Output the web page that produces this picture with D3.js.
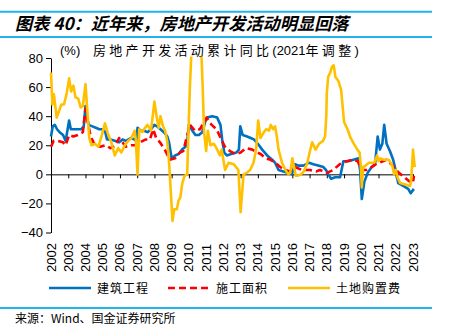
<!DOCTYPE html>
<html>
<head>
<meta charset="utf-8">
<script src="https://cdn.jsdelivr.net/npm/d3@7"></script>
<style>
  body { margin: 0; background: #fff; }
  text { font-family: "Liberation Sans", Arial, sans-serif; }
  .cjk { font-family: "Noto Sans CJK SC", sans-serif; }
</style>
</head>
<body>
<svg id="chart" width="450" height="332"></svg>
<script>
// Values: [year, cumulative YoY %]
const construction = [
  [2002.0, 26], [2002.1, 33], [2002.22, 34], [2002.35, 31], [2002.5, 29], [2002.7, 27], [2002.85, 23],
  [2003.05, 37], [2003.15, 31], [2003.35, 31], [2003.55, 31], [2003.75, 31], [2003.9, 33],
  [2004.0, 47], [2004.1, 38], [2004.2, 34], [2004.4, 33], [2004.6, 32], [2004.8, 31],
  [2005.0, 31], [2005.15, 29], [2005.25, 24], [2005.45, 24], [2005.75, 23], [2005.95, 22],
  [2006.15, 24], [2006.35, 23], [2006.65, 25], [2006.85, 24], [2006.95, 23],
  [2007.02, 32], [2007.2, 30], [2007.4, 30], [2007.6, 29], [2007.8, 31],
  [2008.0, 34], [2008.15, 33], [2008.35, 31], [2008.55, 29], [2008.75, 26], [2008.85, 22],
  [2009.0, 11], [2009.2, 13], [2009.4, 14], [2009.6, 17], [2009.8, 19], [2009.9, 22],
  [2010.0, 34], [2010.2, 30], [2010.38, 27], [2010.58, 27], [2010.77, 29], [2010.97, 37],
  [2011.06, 39], [2011.35, 40], [2011.64, 39], [2011.83, 34], [2011.93, 24],
  [2012.05, 15], [2012.2, 13], [2012.45, 14], [2012.75, 15], [2012.9, 17],
  [2012.98, 33], [2013.12, 27], [2013.38, 26], [2013.58, 25], [2013.77, 24],
  [2014.0, 21], [2014.25, 17], [2014.54, 13], [2014.83, 10],
  [2015.0, 8], [2015.2, 3], [2015.48, 2], [2015.77, 1], [2015.97, 0],
  [2016.16, 7], [2016.35, 6], [2016.64, 6], [2016.97, 8],
  [2017.22, 7], [2017.5, 6], [2017.8, 5], [2017.95, 3],
  [2018.09, 0], [2018.25, -3], [2018.48, -2], [2018.77, -2],
  [2018.96, 9], [2019.25, 9], [2019.54, 10], [2019.83, 11], [2019.93, 3],
  [2020.03, -17], [2020.18, -5], [2020.37, 1], [2020.6, 5], [2020.8, 7],
  [2020.95, 26], [2021.08, 17], [2021.22, 21], [2021.33, 34], [2021.47, 21], [2021.66, 16], [2021.85, 10],
  [2021.99, 3], [2022.14, -6], [2022.43, -8], [2022.72, -10], [2022.87, -13], [2023.05, -10]
];
const floorSpace = [
  [2002.0, 19], [2002.15, 23], [2002.4, 23], [2002.7, 22], [2002.85, 20],
  [2003.05, 27], [2003.3, 26], [2003.55, 27], [2003.85, 29],
  [2004.0, 45], [2004.15, 35], [2004.3, 26], [2004.55, 20], [2004.85, 19],
  [2005.15, 20], [2005.45, 18], [2005.75, 20], [2005.95, 25],
  [2006.15, 22], [2006.35, 19], [2006.65, 20], [2006.95, 20],
  [2007.16, 22], [2007.5, 24], [2007.74, 24], [2007.93, 31],
  [2008.1, 25], [2008.32, 22], [2008.6, 17], [2008.9, 10],
  [2009.19, 11], [2009.48, 15], [2009.67, 16],
  [2010.06, 34], [2010.35, 30], [2010.64, 31],
  [2011.03, 39], [2011.32, 34], [2011.61, 31], [2011.8, 26],
  [2012.09, 19], [2012.38, 16], [2012.7, 14],
  [2013.0, 15], [2013.3, 18], [2013.68, 17], [2013.97, 15],
  [2014.16, 14], [2014.45, 11], [2014.74, 10],
  [2015.0, 8], [2015.3, 5], [2015.6, 3], [2015.87, 2],
  [2016.16, 5], [2016.55, 3], [2017.03, 3], [2017.4, 2], [2017.6, 3],
  [2018.0, 1], [2018.37, 3], [2018.75, 7],
  [2019.15, 9], [2019.5, 10], [2019.8, 9],
  [2020.0, 3], [2020.3, 3], [2020.6, 5], [2020.85, 7],
  [2021.25, 9], [2021.45, 10], [2021.83, 6],
  [2022.1, 2], [2022.5, -2], [2022.8, -5], [2023.0, -6], [2023.05, -1]
];
const landCost = [
  [2002.0, 70], [2002.08, 48], [2002.17, 55], [2002.33, 39], [2002.45, 43], [2002.6, 48], [2002.75, 48], [2002.9, 55],
  [2003.05, 66], [2003.17, 57], [2003.3, 61], [2003.42, 53], [2003.58, 52], [2003.72, 46], [2003.85, 47],
  [2004.0, 62], [2004.1, 45], [2004.22, 25], [2004.35, 20], [2004.55, 21], [2004.75, 19], [2004.95, 27],
  [2005.13, 35], [2005.3, 28], [2005.5, 22], [2005.7, 13], [2005.9, 18],
  [2006.08, 15], [2006.28, 20], [2006.48, 23], [2006.67, 25], [2006.85, 30], [2006.92, 24],
  [2007.02, 0], [2007.12, 31], [2007.3, 29], [2007.45, 32], [2007.6, 34], [2007.8, 30],
  [2008.0, 50], [2008.15, 38], [2008.25, 32], [2008.35, 40], [2008.5, 33], [2008.62, 30], [2008.75, 22], [2008.85, 8],
  [2009.05, -32], [2009.15, -24], [2009.3, -24], [2009.4, -18], [2009.5, -16], [2009.62, -6], [2009.75, -1], [2009.9, 0],
  [2010.05, 58], [2010.15, 85], [2010.25, 95], [2010.5, 92], [2010.7, 90], [2010.8, 60], [2010.88, 29],
  [2011.0, 16], [2011.1, 30], [2011.25, 20], [2011.45, 21], [2011.6, 18], [2011.8, 13], [2011.9, 17],
  [2012.1, 3], [2012.3, 8], [2012.6, 7], [2012.87, 3],
  [2013.0, -26], [2013.17, 0], [2013.35, 1], [2013.55, 3], [2013.75, 8], [2013.9, 17],
  [2014.02, 37], [2014.15, 25], [2014.35, 29], [2014.48, 31], [2014.65, 30], [2014.75, 34], [2014.88, 31],
  [2015.0, 33], [2015.1, 26], [2015.2, 17], [2015.4, 8], [2015.6, 3], [2015.77, 0], [2015.88, 1],
  [2016.0, 11], [2016.2, -1], [2016.3, -1], [2016.5, 0], [2016.67, 2], [2016.87, 8],
  [2017.0, 15], [2017.15, 22], [2017.35, 17], [2017.55, 21], [2017.78, 23], [2017.9, 26], [2017.97, 40],
  [2018.0, 56], [2018.08, 67], [2018.2, 70], [2018.3, 74], [2018.4, 75], [2018.5, 67], [2018.68, 64], [2018.83, 58],
  [2019.0, 36], [2019.2, 31], [2019.38, 25], [2019.57, 21], [2019.77, 17], [2019.9, 15], [2019.97, 6],
  [2020.03, -9], [2020.1, 5], [2020.25, 6], [2020.45, 8], [2020.75, 8], [2020.92, 13],
  [2021.0, 9], [2021.1, 11], [2021.3, 10], [2021.6, 10], [2021.8, 6], [2021.9, 0],
  [2022.0, 3], [2022.1, -2], [2022.25, -6], [2022.55, -7], [2022.83, -8], [2022.9, -3],
  [2023.0, 17], [2023.1, 5]
];
const yTicks = [-40, -20, 0, 20, 40, 60, 80];
const years = d3.range(2002, 2024);
const legendNames = ["建筑工程", "施工面积", "土地购置费"];

const svg = d3.select("#chart");

const x = d3.scaleLinear().domain([2002, 2023]).range([51, 413]);
const y = d3.scaleLinear().domain([-40, 80]).range([232.5, 58]);

// header / footer rules
[11.7, 37, 308].forEach(yy => {
  svg.append("line")
    .attr("x1", 0).attr("x2", 432)
    .attr("y1", yy).attr("y2", yy)
    .style("stroke", "#1eb4ee")
    .style("stroke-width", 2);
});

svg.append("text")
  .attr("class", "cjk")
  .attr("x", 15).attr("y", 30)
  .style("font-size", "17.2px")
  .style("font-weight", "bold")
  .style("font-style", "italic")
  .text("图表 40：近年来，房地产开发活动明显回落");

svg.append("text")
  .attr("x", 60).attr("y", 55)
  .style("font-size", "13px")
  .text("(%)");

// subtitle: CJK parts spaced out, latin parts normal
const sub = svg.append("text").attr("x", 93).attr("y", 55).style("font-size", "13px");
[["房地产开发活动累计同比", true], ["(2021", false], ["年调整", true], [")", false]].forEach(p => {
  sub.append("tspan")
    .attr("class", p[1] ? "cjk" : null)
    .style("letter-spacing", p[1] ? "3.3px" : "0px")
    .text(p[0]);
});

// y axis
const yAxis = svg.append("g")
  .attr("transform", "translate(51,0)")
  .call(d3.axisLeft(y).tickValues(yTicks).tickSize(5).tickSizeOuter(0).tickPadding(3));
yAxis.select(".domain").style("stroke", "#000");
yAxis.selectAll("line").style("stroke", "#000");
yAxis.selectAll("text").style("font-size", "13px").style("font-family", "Liberation Sans, Arial, sans-serif");

// x axis on the zero line
const xAxis = svg.append("g")
  .attr("transform", `translate(0,${y(0)})`)
  .call(d3.axisBottom(x).tickValues(years).tickSize(4).tickSizeOuter(0).tickFormat(""));
xAxis.select(".domain").style("stroke", "#000");
xAxis.selectAll("line").style("stroke", "#000");

// rotated year labels
svg.append("g").selectAll("text")
  .data(years)
  .join("text")
  .attr("transform", d => `translate(${x(d) + 4.5},272) rotate(-90)`)
  .style("font-size", "13px")
  .text(d => d);

svg.append("clipPath").attr("id", "plot")
  .append("rect")
  .attr("x", 40).attr("y", 56.5)
  .attr("width", 400).attr("height", 200);

const line = d3.line().x(d => x(d[0])).y(d => y(d[1]));

const series = [
  { data: construction, color: "#0070c0", dash: null },
  { data: floorSpace, color: "#ff0000", dash: "7,4" },
  { data: landCost, color: "#ffc000", dash: null }
];

const plot = svg.append("g").attr("clip-path", "url(#plot)");
series.forEach(s => {
  plot.append("path")
    .datum(s.data)
    .attr("d", line)
    .style("fill", "none")
    .style("stroke", s.color)
    .style("stroke-width", 2.6)
    .style("stroke-linejoin", "round")
    .style("stroke-dasharray", s.dash);
});

// legend
const legendX = [49, 168, 288];
series.forEach((s, i) => {
  const g = svg.append("g").attr("transform", `translate(${legendX[i]},288)`);
  g.append("line")
    .attr("x1", 0).attr("x2", 42)
    .style("stroke", s.color)
    .style("stroke-width", 2.6)
    .style("stroke-dasharray", s.dash);
  g.append("text")
    .attr("class", "cjk")
    .attr("x", 48).attr("y", 4.5)
    .style("font-size", "12px")
    .style("letter-spacing", "1px")
    .text(legendNames[i]);
});

svg.append("text")
  .attr("class", "cjk")
  .attr("x", 15).attr("y", 323)
  .style("font-size", "12px")
  .text("来源：Wind、国金证券研究所");
</script>
</body>
</html>
